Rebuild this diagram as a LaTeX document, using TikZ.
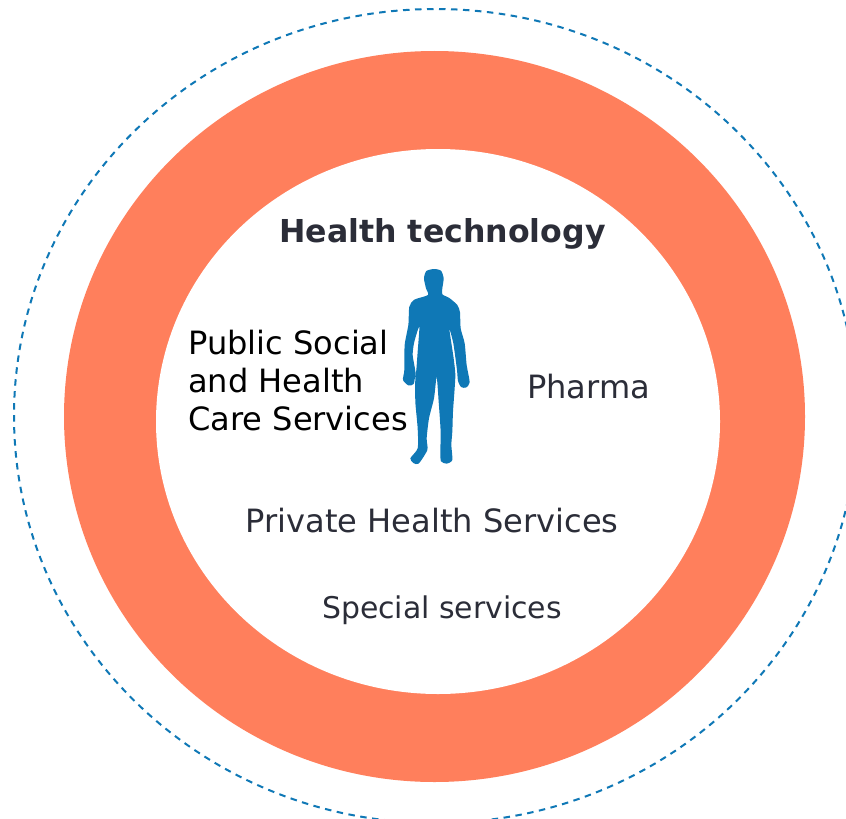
\documentclass[tikz,border=0pt]{standalone}
\usepackage{fontspec}
\setmainfont{DejaVu Sans}
\definecolor{ring}{HTML}{FF7F5C}
\definecolor{accent}{HTML}{0F78B6}
\definecolor{ink}{HTML}{2B2D38}
\tikzset{
  label text/.style={inner sep=0pt,text=ink,font=\fontsize{32.2}{38}\selectfont},
  small text/.style={inner sep=0pt,text=ink,font=\fontsize{30}{36}\selectfont},
  title text/.style={inner sep=0pt,text=ink,font=\fontsize{31.7}{38}\selectfont\bfseries},
  dark text/.style={inner sep=0pt,text=black,align=left,anchor=west,font=\fontsize{32.2}{38}\selectfont},
}
\begin{document}
\begin{tikzpicture}[x=1bp,y=-1bp]
\useasboundingbox (0,0) rectangle (846,819);
\clip (0,0) rectangle (846,819);
\fill[white] (0,0) rectangle (846,819);
\draw[accent,line width=2bp,dash pattern=on 6.5bp off 5.5bp] (435.5,416) ellipse [x radius=421.5,y radius=407];
\fill[ring] (434.5,416.5) ellipse [x radius=370.5,y radius=365.5];
\fill[white] (438,421.5) ellipse [x radius=282,y radius=272.5];
\begin{scope}[shift={(380,255)},x=0.3333bp,y=-0.3333bp]
\fill[accent] plot[smooth cycle,tension=0.4] coordinates {
(162,42)(183,47)(191,70)(187,100)(187,118)(208,129)(232,150)(240,172)(242,220)(254,265)(260,330)(269,382)(258,398)(243,396)(234,378)(231,345)(220,265)(208,222)(221,310)(226,358)(224,400)(219,470)(217,530)(214,570)(217,615)(200,626)(183,619)(181,590)(182,530)(176,440)(170,366)(162,430)(147,490)(140,550)(142,585)(116,626)(100,624)(91,610)(113,580)(113,520)(106,440)(106,365)(109,345)(113,290)(118,215)(103,260)(98,300)(106,350)(101,387)(85,391)(69,375)(73,345)(74,270)(85,210)(88,155)(103,134)(144,120)(138,100)(132,70)(139,48)};
\end{scope}
\node[title text] (title) at (442.5,234) {Health technology};
\node[dark text] (public) at (188,380.5) {Public Social\\and Health\\Care Services};
\node[label text] (pharma) at (588.5,387) {Pharma};
\node[label text] (private) at (432,521) {Private Health Services};
\node[small text] (special) at (442,610) {Special services};
\end{tikzpicture}
\end{document}
